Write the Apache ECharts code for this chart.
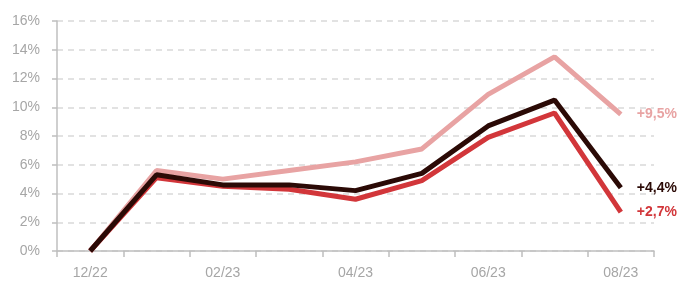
<!DOCTYPE html>
<html>
<head>
<meta charset="utf-8">
<script src="https://cdn.jsdelivr.net/npm/echarts@6/dist/echarts.min.js"></script>
<style>
  html, body { margin: 0; padding: 0; background: #fff; }
  #chart { width: 680px; height: 282px; }
</style>
</head>
<body>
<div id="chart"></div>
<script>
const months = ['12/22', '01/23', '02/23', '03/23', '04/23', '05/23', '06/23', '07/23', '08/23']
const yTicks = [0, 2, 4, 6, 8, 10, 12, 14, 16]
const pinkValues = [0, 5.6, 5.0, 5.6, 6.2, 7.1, 10.9, 13.5, 9.5]
const redValues = [0, 5.1, 4.5, 4.3, 3.6, 4.9, 7.9, 9.6, 2.7]
const darkValues = [0, 5.3, 4.6, 4.6, 4.2, 5.4, 8.7, 10.5, 4.4]
const endTexts = ['+9,5%', '+2,7%', '+4,4%']

const font = 'Liberation Sans'
const axisGrey = '#bfbfbf'
const labelGrey = '#a6a6a6'

function lineSeries (name, data, color, endText) {
  return {
    name: name,
    type: 'line',
    data: data,
    symbol: 'none',
    smooth: false,
    lineStyle: { color: color, width: 5 },
    endLabel: {
      show: true,
      formatter: endText,
      distance: 16,
      color: color,
      fontFamily: font,
      fontWeight: 'bold',
      fontSize: 14
    },
    silent: true
  }
}

let myChart = echarts.init(document.getElementById('chart'))
myChart.setOption({
  animation: false,
  backgroundColor: '#ffffff',
  grid: {
    left: 57,
    right: 26,
    top: 21,
    bottom: 31
  },
  xAxis: {
    type: 'category',
    data: months,
    boundaryGap: true,
    axisLine: {
      lineStyle: { color: axisGrey, width: 1.5 }
    },
    axisTick: {
      show: true,
      interval: 0,
      length: 6,
      lineStyle: { color: axisGrey, width: 1.5 }
    },
    axisLabel: {
      interval: 1,
      margin: 15,
      color: labelGrey,
      fontFamily: font,
      fontSize: 14
    },
    splitLine: { show: false }
  },
  yAxis: {
    type: 'value',
    min: yTicks[0],
    max: yTicks[yTicks.length - 1],
    interval: 2,
    axisLine: {
      show: true,
      lineStyle: { color: axisGrey, width: 1.5 }
    },
    axisTick: {
      show: true,
      length: 5,
      lineStyle: { color: axisGrey, width: 1.5 }
    },
    axisLabel: {
      formatter: '{value}%',
      margin: 17,
      color: labelGrey,
      fontFamily: font,
      fontSize: 14
    },
    splitLine: {
      show: true,
      lineStyle: { color: '#d9d9d9', type: [6, 5], width: 1.5 }
    }
  },
  series: [
    lineSeries('pink', pinkValues, '#e8a3a3', endTexts[0]),
    lineSeries('red', redValues, '#d2363a', endTexts[1]),
    lineSeries('dark', darkValues, '#2b0a06', endTexts[2])
  ]
})
</script>
</body>
</html>
